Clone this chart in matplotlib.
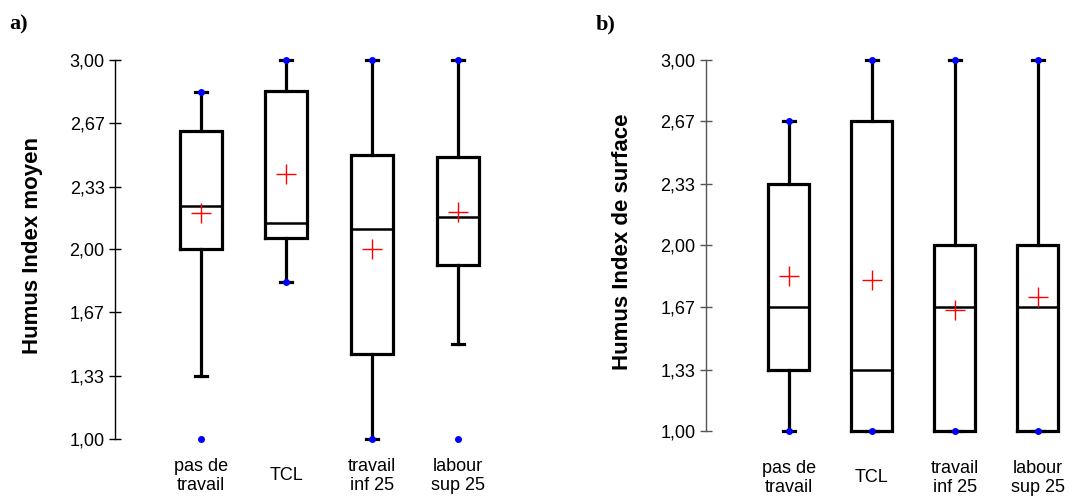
import matplotlib
matplotlib.use("Agg")
import matplotlib.pyplot as plt

plt.rcParams['font.family'] = ['Liberation Sans', 'DejaVu Sans']

categories = ["pas de\ntravail", "TCL", "travail\ninf 25", "labour\nsup 25"]
yticks = [1.00, 1.33, 1.67, 2.00, 2.33, 2.67, 3.00]
ytick_labels = ["1,00", "1,33", "1,67", "2,00", "2,33", "2,67", "3,00"]

# Panel a) Humus Index moyen
a_whislo = [1.33, 1.83, 1.00, 1.50]
a_q1 = [2.00, 2.06, 1.45, 1.92]
a_med = [2.23, 2.14, 2.11, 2.17]
a_q3 = [2.625, 2.835, 2.50, 2.49]
a_whishi = [2.83, 3.00, 3.00, 3.00]
a_mean = [2.19, 2.40, 2.00, 2.20]
a_min = [1.00, 1.83, 1.00, 1.00]
a_max = [2.83, 3.00, 3.00, 3.00]

# Panel b) Humus Index de surface
b_whislo = [1.00, 1.00, 1.00, 1.00]
b_q1 = [1.33, 1.00, 1.00, 1.00]
b_med = [1.67, 1.33, 1.67, 1.67]
b_q3 = [2.33, 2.67, 2.00, 2.00]
b_whishi = [2.67, 3.00, 3.00, 3.00]
b_mean = [1.835, 1.815, 1.65, 1.725]
b_min = [1.00, 1.00, 1.00, 1.00]
b_max = [2.67, 3.00, 3.00, 3.00]

W, H = 1087, 498
fig = plt.figure(figsize=(W / 100, H / 100), dpi=100)


def panel(rect, xmax, whislo, q1, med, q3, whishi, mean, mins, maxs,
          ylabel, letter, letter_xy, spine_color, label_pad, ylab_x, ylab_y):
    ax = fig.add_axes(rect)
    stats = []
    for i in range(len(categories)):
        stats.append(dict(whislo=whislo[i], q1=q1[i], med=med[i], q3=q3[i],
                          whishi=whishi[i], mean=mean[i], fliers=[]))
    pos = list(range(1, len(categories) + 1))
    art = ax.bxp(stats, positions=pos, widths=0.49, showmeans=True,
                 showfliers=False, capwidths=0.14,
                 boxprops=dict(color='black', lw=2.3),
                 whiskerprops=dict(color='black', lw=2.3),
                 capprops=dict(color='black', lw=2.3),
                 medianprops=dict(color='black', lw=1.8),
                 meanprops=dict(marker='+', markeredgecolor='red',
                                markerfacecolor='red', markersize=15,
                                markeredgewidth=1.0))
    for k in ('boxes', 'whiskers', 'caps', 'medians', 'means'):
        for l in art[k]:
            l.set_clip_on(False)
            l.set_solid_joinstyle('miter')
    ax.plot(pos, mins, linestyle='none', marker='o', color='#0000ff',
            markersize=4, clip_on=False, zorder=5)
    ax.plot(pos, maxs, linestyle='none', marker='o', color='#0000ff',
            markersize=4, clip_on=False, zorder=5)
    ax.set_xlim(0, xmax)
    ax.set_ylim(1.0, 3.0)
    for s in ('top', 'right', 'bottom'):
        ax.spines[s].set_visible(False)
    ax.spines['left'].set_color(spine_color)
    ax.spines['left'].set_linewidth(1.0)
    ax.set_yticks(yticks)
    ax.set_yticklabels(ytick_labels)
    ax.tick_params(axis='y', direction='inout', length=9, width=1.0,
                   color=spine_color, labelsize=13, pad=3)
    ax.set_xticks(pos)
    ax.set_xticklabels(categories, fontsize=13, linespacing=1.15)
    ax.tick_params(axis='x', length=0, pad=label_pad)
    for t in ax.get_xticklabels():
        t.set_va('center')
        t.set_ha('center')
        t.set_multialignment('center')
    ax.set_ylabel(ylabel, fontsize=16, fontweight='bold')
    ax.yaxis.set_label_coords(ylab_x, ylab_y)
    fig.text(letter_xy[0] / W, 1 - letter_xy[1] / H, letter,
             fontsize=16, fontweight='bold', family='Liberation Serif',
             ha='left', va='center')
    return ax


panel([115 / W, 59 / H, (509 - 115) / W, (438 - 59) / H], 4.6,
      a_whislo, a_q1, a_med, a_q3, a_whishi, a_mean, a_min, a_max,
      "Humus Index moyen", "a)", (9, 24), 'black', 26.5, -0.183, 0.51)

panel([705.7 / W, 67 / H, (1071 - 705.7) / W, (438 - 67) / H], 4.4,
      b_whislo, b_q1, b_med, b_q3, b_whishi, b_mean, b_min, b_max,
      "Humus Index de surface", "b)", (596, 24), '#555555', 33.5, -0.199, 0.51)

fig.savefig("out.png", dpi=100)
